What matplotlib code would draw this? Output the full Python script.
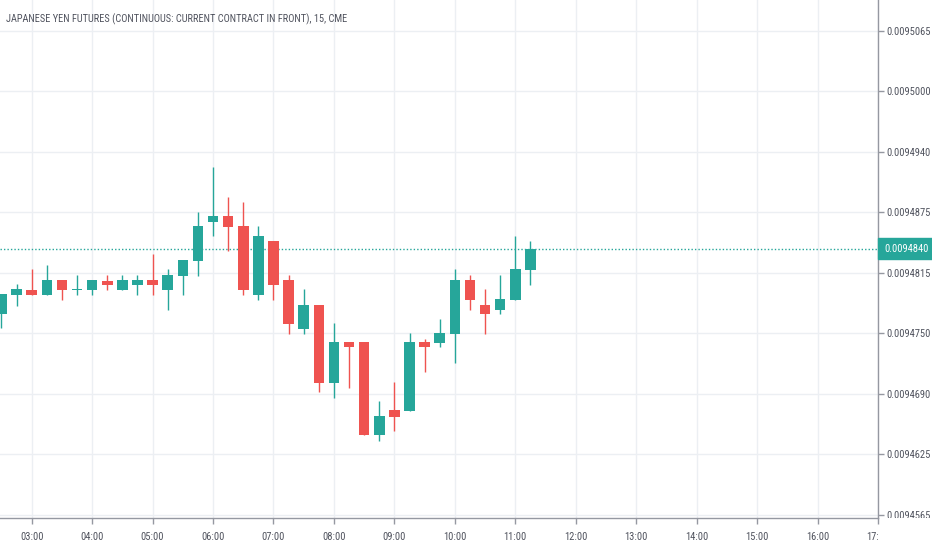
import math
import matplotlib
matplotlib.use('Agg')
import matplotlib.pyplot as plt
from matplotlib.transforms import Bbox, TransformedBbox

# datos de las velas de 15 minutos
times = ['02:30', '02:45', '03:00', '03:15', '03:30', '03:45', '04:00', '04:15', '04:30',
         '04:45', '05:00', '05:15', '05:30', '05:45', '06:00', '06:15', '06:30', '06:45',
         '07:00', '07:15', '07:30', '07:45', '08:00', '08:15', '08:30', '08:45', '09:00',
         '09:15', '09:30', '09:45', '10:00', '10:15', '10:30', '10:45', '11:00', '11:15']

opens = [0.0094772, 0.0094792, 0.0094797, 0.0094792, 0.0094808, 0.0094797, 0.0094797,
         0.0094807, 0.0094797, 0.0094802, 0.0094808, 0.0094797, 0.0094812, 0.0094827,
         0.0094868, 0.0094874, 0.0094863, 0.0094792, 0.0094848, 0.0094808, 0.0094757,
         0.0094782, 0.0094701, 0.0094743, 0.0094743, 0.0094647, 0.0094673, 0.0094672,
         0.0094743, 0.0094742, 0.0094752, 0.0094808, 0.0094782, 0.0094777, 0.0094787,
         0.0094818]

highs = [0.0094793, 0.0094803, 0.0094819, 0.0094823, 0.0094808, 0.0094813, 0.0094808,
         0.0094813, 0.0094813, 0.0094813, 0.0094834, 0.0094819, 0.0094828, 0.0094878,
         0.0094924, 0.0094893, 0.0094888, 0.0094863, 0.0094848, 0.0094813, 0.0094798,
         0.0094782, 0.0094763, 0.0094743, 0.0094743, 0.0094682, 0.0094702, 0.0094753,
         0.0094747, 0.0094767, 0.0094819, 0.0094813, 0.0094798, 0.0094813, 0.0094853,
         0.0094848]

lows = [0.0094758, 0.0094781, 0.0094792, 0.0094792, 0.0094787, 0.0094792, 0.0094792,
        0.0094797, 0.0094797, 0.0094792, 0.0094792, 0.0094777, 0.0094792, 0.0094812,
        0.0094853, 0.0094838, 0.0094792, 0.0094787, 0.0094787, 0.0094752, 0.0094752,
        0.0094692, 0.0094686, 0.0094696, 0.0094647, 0.0094641, 0.0094651, 0.0094672,
        0.0094712, 0.0094738, 0.0094722, 0.0094777, 0.0094752, 0.0094772, 0.0094787,
        0.0094802]

closes = [0.0094793, 0.0094798, 0.0094792, 0.0094808, 0.0094797, 0.0094798, 0.0094808,
          0.0094802, 0.0094808, 0.0094808, 0.0094802, 0.0094813, 0.0094828, 0.0094863,
          0.0094874, 0.0094862, 0.0094797, 0.0094853, 0.0094802, 0.0094762, 0.0094782,
          0.0094701, 0.0094743, 0.0094738, 0.0094647, 0.0094667, 0.0094666, 0.0094743,
          0.0094738, 0.0094753, 0.0094808, 0.0094787, 0.0094772, 0.0094788, 0.0094819,
          0.0094840]

# eje de precios y eje de horas
price_ticks = [0.0094565, 0.00946275, 0.0094690, 0.00947525, 0.0094815,
               0.00948775, 0.0094940, 0.00950025, 0.0095065]
hour_ticks = list(range(3, 18))

title = 'JAPANESE YEN FUTURES (CONTINUOUS: CURRENT CONTRACT IN FRONT), 15, CME'

green = '#26a69a'
red = '#ef5350'
grid_color = '#eceff3'
axis_color = '#9598a1'
text_color = '#50535e'

plt.rcParams['font.family'] = ['Roboto Condensed', 'Liberation Sans', 'DejaVu Sans']


def fmt_price(v):
    # el precio se muestra truncado al tick de 0.0000005
    return '%.7f' % (math.floor(v / 5e-7 + 1e-6) * 5e-7)


x = [int(t[:2]) + int(t[3:]) / 60 for t in times]

fig = plt.figure(figsize=(9.32, 5.5), dpi=100)
ax = fig.add_axes([0, 32 / 550, 878 / 932, 518 / 550])

for xi, o, h, l, c in zip(x, opens, highs, lows, closes):
    col = green if c >= o else red
    ax.vlines(xi, l, h, color=col, linewidth=1, zorder=2)
    ax.bar(xi, max(abs(c - o), 1e-7), bottom=min(o, c), width=0.175, color=col,
           linewidth=0, zorder=3)

# linea del ultimo precio
ax.axhline(closes[-1], color=green, linestyle=(0, (1, 1.5)), linewidth=1, zorder=1)

ax.set_xlim(2.4756, 16.99)
ax.set_ylim(0.00945615, 0.0095097)

ax.set_xticks(hour_ticks)
ax.set_xticklabels(['%02d:00' % h for h in hour_ticks])
ax.set_yticks(price_ticks)
ax.set_yticklabels([fmt_price(v) for v in price_ticks])
ax.yaxis.tick_right()
ax.grid(True, color=grid_color, linewidth=1, zorder=0)
ax.set_axisbelow(True)

for s in ['top', 'left']:
    ax.spines[s].set_visible(False)
for s in ['right', 'bottom']:
    ax.spines[s].set_color(axis_color)
    ax.spines[s].set_linewidth(1)

ax.tick_params(axis='both', colors=axis_color, labelcolor=text_color, labelsize=7.6,
               length=4, width=1)
ax.tick_params(axis='y', pad=2)
ax.tick_params(axis='x', pad=6)

# recortar etiquetas que salen del area
clip_x = TransformedBbox(Bbox([[0, 0], [878 / 932, 1]]), fig.transFigure)
for lbl in ax.get_xticklabels():
    lbl.set_clip_box(clip_x)
    lbl.set_clip_on(True)
clip_y = TransformedBbox(Bbox([[0, 32 / 550], [1, 1]]), fig.transFigure)
for lbl in ax.get_yticklabels():
    lbl.set_clip_box(clip_y)
    lbl.set_clip_on(True)

# etiqueta del ultimo precio
ax.text(1.0 + 6 / 878, closes[-1], fmt_price(closes[-1]),
        transform=ax.get_yaxis_transform(), ha='left', va='center', color='white',
        fontsize=7.6, zorder=5,
        bbox=dict(boxstyle='square,pad=0.55', facecolor=green, edgecolor=green))

fig.text(6 / 932, 1 - 19.5 / 550, title, ha='left', va='center', color=text_color,
         fontsize=7.5)

fig.savefig('out.png', dpi=100)
